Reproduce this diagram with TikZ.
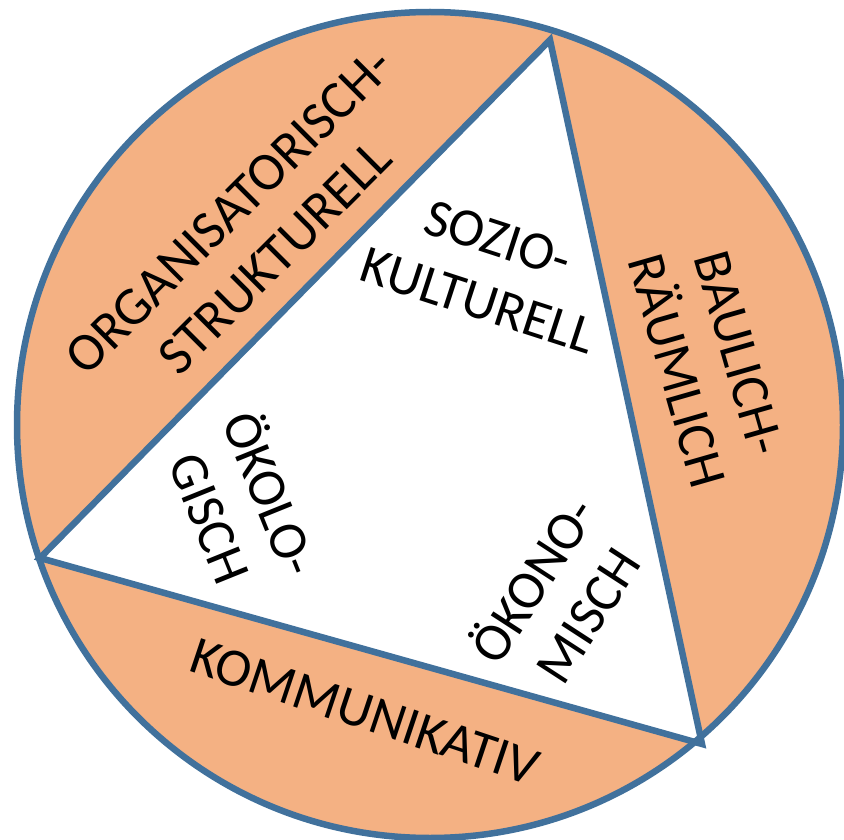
\documentclass[tikz,border=0pt]{standalone}
\usepackage{fontspec}
\setmainfont{Carlito}
\definecolor{segfill}{HTML}{F4B183}
\definecolor{edgeblue}{HTML}{41719C}
\begin{document}
\begin{tikzpicture}[x=1pt,y=-1pt,
  lbl/.style={font=\fontsize{54}{65}\selectfont, align=center, inner sep=0pt, text=black},
  outline/.style={draw=edgeblue, line width=6.5pt}]
\useasboundingbox (0,0) rectangle (844,840);
\coordinate (O) at (430,425);
\coordinate (T) at (550,40);
\coordinate (R) at (702,744);
\coordinate (L) at (40,558);
\fill[segfill] (O) circle (413pt);
\fill[white] (T) -- (R) -- (L) -- cycle;
\draw[outline] (T) -- (R) -- (L) -- cycle;
\draw[outline] (O) circle (413pt);
\node[lbl, rotate=45] (org) at (252,234) {ORGANISATORISCH-\\STRUKTURELL};
\node[lbl, rotate=-18] (soz) at (488,270) {SOZIO-\\KULTURELL};
\node[lbl, rotate=-74] (bau) at (708,362) {BAULICH-\\RÄUMLICH};
\node[lbl, rotate=-68] (oekol) at (243,505) {ÖKOLO-\\GISCH};
\node[lbl, rotate=57] (oekon) at (558,596) {ÖKONO-\\MISCH};
\node[lbl, rotate=-18.5] (kom) at (365,712) {KOMMUNIKATIV};
\end{tikzpicture}
\end{document}
